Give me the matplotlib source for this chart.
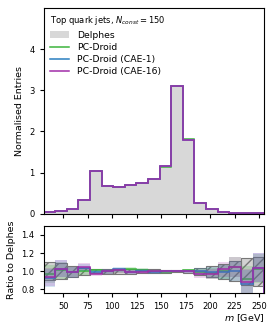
import numpy as np
import matplotlib.pyplot as plt

# --- DATA ---
edges = np.linspace(30, 255, 20)

delphes = [0.04, 0.07, 0.12, 0.34, 1.04, 0.68, 0.65, 0.70, 0.75, 0.84,
           1.15, 3.10, 1.80, 0.26, 0.12, 0.05, 0.03, 0.02, 0.01]
delphes_err = [0.10, 0.09, 0.06, 0.04, 0.02, 0.025, 0.025, 0.025, 0.022, 0.02,
               0.018, 0.01, 0.015, 0.04, 0.06, 0.08, 0.11, 0.15, 0.16]

ratio_green = [0.97, 1.01, 0.99, 1.00, 1.01, 1.00, 1.01, 1.02, 1.01, 1.00,
               0.99, 1.00, 1.01, 0.99, 0.98, 1.00, 1.05, 0.91, 1.03]
ratio_blue = [0.93, 1.03, 0.99, 1.04, 0.99, 1.00, 1.02, 0.99, 1.00, 0.99,
              1.00, 1.00, 1.00, 1.00, 0.99, 0.99, 1.00, 0.86, 1.04]
ratio_purple = [0.94, 1.03, 0.99, 1.05, 0.97, 1.00, 1.01, 0.99, 0.99, 1.00,
                1.00, 1.00, 1.00, 0.97, 0.97, 1.02, 1.05, 0.88, 1.04]

labels = ["PC-Droid", "PC-Droid (CAE-1)", "PC-Droid (CAE-16)"]
colors = ["#3cb43c", "#2a7fc0", "#a02ca8"]

plt.rcParams['font.size'] = 6
plt.rcParams['xtick.labelsize'] = 6
plt.rcParams['ytick.labelsize'] = 6
plt.rcParams['xtick.major.size'] = 3
plt.rcParams['ytick.major.size'] = 3

fig = plt.figure(figsize=(2.74, 3.29), dpi=100)
ax = fig.add_axes([0.159, 0.350, 0.805, 0.626])
rax = fig.add_axes([0.159, 0.109, 0.805, 0.205])

delphes = np.array(delphes)
derr = np.array(delphes_err)
ratios = [np.array(ratio_green), np.array(ratio_blue), np.array(ratio_purple)]

# top panel
ax.stairs(delphes, edges, fill=True, color="#d8d8d8", label="Delphes")
ax.stairs(delphes, edges, color="#c0c0c0", lw=1.1)
for r, c, lab in zip(ratios, colors, labels):
    ax.stairs(delphes * r ** 0.3, edges, color=c, lw=1.1, label=lab)

ax.set_xlim(30, 255)
ax.set_ylim(0, 5)
ax.set_yticks([0, 1, 2, 3, 4])
ax.set_xticks([50, 75, 100, 125, 150, 175, 200, 225, 250])
ax.set_xticklabels([])
ax.set_ylabel("Normalised Entries", fontsize=6.8)
leg = ax.legend(loc="upper left", frameon=False, fontsize=6.7,
                title=r"Top quark jets, $N_{const} = 150$", title_fontsize=6,
                handlelength=2.0, labelspacing=0.35, borderaxespad=0.3,
                handletextpad=0.9)
leg._legend_box.align = "left"

# ratio panel
centers = 0.5 * (edges[1:] + edges[:-1])
width = edges[1] - edges[0]
rax.bar(centers, 2 * derr, bottom=1 - derr, width=width,
        facecolor=(0.5, 0.5, 0.5, 0.35), edgecolor="#777777", hatch="///", lw=0.8)
for r, c in zip(ratios, colors):
    rax.stairs(r + derr, edges, baseline=r - derr, fill=True, color=c, alpha=0.2, lw=0)
    rax.stairs(r, edges, color=c, lw=1.1)

rax.set_xlim(30, 255)
rax.set_ylim(0.76, 1.5)
rax.set_yticks([0.8, 1.0, 1.2, 1.4])
rax.set_xticks([50, 75, 100, 125, 150, 175, 200, 225, 250])
rax.set_ylabel("Ratio to Delphes", fontsize=6.8)
rax.set_xlabel(r"$m$ [GeV]", fontsize=6.8, loc="right", labelpad=1)

fig.savefig("out.png", dpi=100)
